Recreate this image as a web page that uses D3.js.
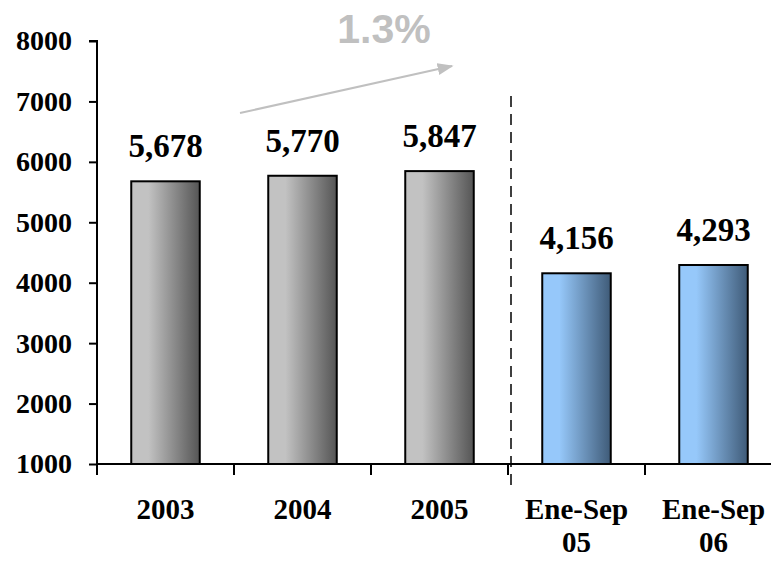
<!DOCTYPE html>
<html>
<head>
<meta charset="utf-8">
<script src="https://cdn.jsdelivr.net/npm/d3@7"></script>
<style>
  body { margin: 0; background: #fff; }
</style>
</head>
<body>
<div id="chart"></div>
<script>
const categories = ["2003", "2004", "2005", "Ene-Sep\n05", "Ene-Sep\n06"];
const values = [5678, 5770, 5847, 4156, 4293];
const groups = ["year", "year", "year", "period", "period"];
const yTicks = [1000, 2000, 3000, 4000, 5000, 6000, 7000, 8000];
const growthLabel = "1.3%";

const width = 771, height = 562;
const x0 = 97, bandW = 137, yBottom = 464, yTop = 41;

const svg = d3.select("#chart").append("svg")
  .attr("width", width)
  .attr("height", height);

const defs = svg.append("defs");
function grad(id, c1, c2) {
  const g = defs.append("linearGradient").attr("id", id)
    .attr("x1", "0%").attr("x2", "100%").attr("y1", "0%").attr("y2", "0%");
  g.append("stop").attr("offset", "0%").attr("stop-color", c1);
  g.append("stop").attr("offset", "25%").attr("stop-color", c1);
  g.append("stop").attr("offset", "100%").attr("stop-color", c2);
}
grad("gYear", "#c2c2c2", "#555555");
grad("gPeriod", "#96c8fa", "#3f5b78");

const x = d3.scaleBand()
  .domain(categories)
  .range([x0, x0 + bandW * categories.length])
  .paddingInner(0.5)
  .paddingOuter(0.25);

const y = d3.scaleLinear().domain([1000, 8000]).range([yBottom, yTop]);

const font = "'Liberation Serif', 'DejaVu Serif', serif";

// y axis
const yAxis = svg.append("g")
  .attr("transform", `translate(${x0},0)`)
  .call(d3.axisLeft(y).tickValues(yTicks).tickSize(8).tickPadding(17).tickFormat(d3.format("d")));
yAxis.select(".domain").attr("stroke", "#000").attr("stroke-width", 2).attr("d", `M-8,${yTop}H0V${yBottom}`);
yAxis.selectAll(".tick line").attr("stroke", "#000").attr("stroke-width", 2);
yAxis.selectAll(".tick text")
  .attr("font-family", font).attr("font-weight", "bold")
  .attr("font-size", 28).attr("fill", "#000");

// bars
svg.append("g").selectAll("rect")
  .data(values)
  .join("rect")
  .attr("x", (d, i) => x(categories[i]))
  .attr("width", x.bandwidth())
  .attr("y", d => y(d))
  .attr("height", d => yBottom - y(d))
  .attr("fill", (d, i) => groups[i] === "year" ? "url(#gYear)" : "url(#gPeriod)")
  .attr("stroke", "#000")
  .attr("stroke-width", 2);

// x axis line and ticks at band boundaries
svg.append("line")
  .attr("x1", x0).attr("x2", width).attr("y1", yBottom).attr("y2", yBottom)
  .attr("stroke", "#000").attr("stroke-width", 2);
svg.append("g").selectAll("line")
  .data(d3.range(categories.length + 1))
  .join("line")
  .attr("x1", i => x0 + i * bandW)
  .attr("x2", i => x0 + i * bandW)
  .attr("y1", yBottom).attr("y2", yBottom + 11)
  .attr("stroke", "#000").attr("stroke-width", 2);

// x labels
svg.append("g").selectAll("text")
  .data(categories)
  .join("text")
  .attr("text-anchor", "middle")
  .attr("font-family", font).attr("font-weight", "bold")
  .attr("font-size", 29).attr("fill", "#000")
  .attr("transform", d => `translate(${x(d) + x.bandwidth() / 2},519)`)
  .selectAll("tspan")
  .data(d => d.split("\n"))
  .join("tspan")
  .attr("x", 0)
  .attr("dy", (d, i) => i === 0 ? 0 : 33)
  .text(d => d);

// value labels
svg.append("g").selectAll("text")
  .data(values)
  .join("text")
  .attr("x", (d, i) => x(categories[i]) + x.bandwidth() / 2)
  .attr("y", d => y(d) - 24)
  .attr("text-anchor", "middle")
  .attr("font-family", font).attr("font-weight", "bold")
  .attr("font-size", 33).attr("fill", "#000")
  .text(d => d3.format(",")(d));

// dashed separator
const sepX = x0 + 3 * bandW + 3;
svg.append("line")
  .attr("x1", sepX).attr("x2", sepX).attr("y1", 96).attr("y2", 490)
  .attr("stroke", "#000").attr("stroke-width", 1.5)
  .attr("stroke-dasharray", "11,7");

// growth arrow
defs.append("marker").attr("id", "arrow")
  .attr("viewBox", "0 0 10 10").attr("refX", 9).attr("refY", 5)
  .attr("markerUnits", "userSpaceOnUse")
  .attr("markerWidth", 16).attr("markerHeight", 12).attr("orient", "auto")
  .attr("preserveAspectRatio", "none")
  .append("path").attr("d", "M0,0L10,5L0,10Z").attr("fill", "#c0c0c0");
svg.append("line")
  .attr("x1", 240).attr("y1", 113).attr("x2", 452).attr("y2", 66)
  .attr("stroke", "#c0c0c0").attr("stroke-width", 2)
  .attr("marker-end", "url(#arrow)");
svg.append("text")
  .attr("x", 384).attr("y", 43)
  .attr("text-anchor", "middle")
  .attr("font-family", "'Liberation Sans', Arial, sans-serif")
  .attr("font-weight", "bold").attr("font-size", 41)
  .attr("fill", "#c0c0c0")
  .text(growthLabel);
</script>
</body>
</html>
